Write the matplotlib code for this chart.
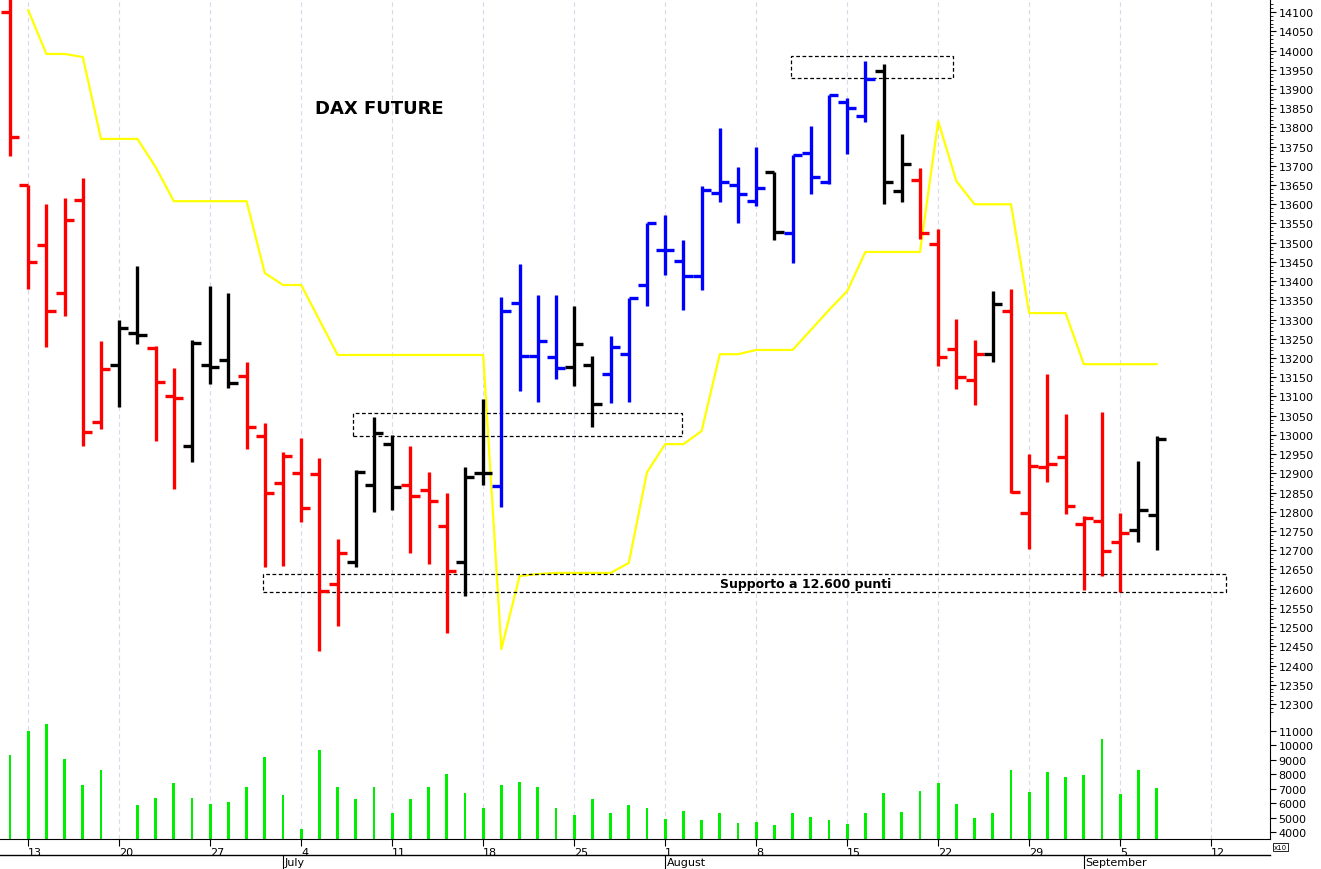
import matplotlib
matplotlib.use("Agg")
import matplotlib.pyplot as plt
from matplotlib.patches import Rectangle
from matplotlib.lines import Line2D
import numpy as np

# trading days Jun 10 .. Sep 7 2022 (index 0..63)
opens = [14100, 13650, 13494, 13369, 13611, 13033, 13182, 13265, 13226, 13101,
         12971, 13182, 13195, 13153, 12997, 12875, 12901, 12898, 12612, 12669,
         12870, 12976, 12870, 12857, 12763, 12669, 12901, 12867, 13343, 13205,
         13203, 13177, 13182, 13158, 13210, 13390, 13481, 13452, 13413, 13629,
         13650, 13608, 13684, 13525, 13733, 13658, 13866, 13829, 13947, 13634,
         13663, 13496, 13223, 13143, 13210, 13322, 12797, 12916, 12942, 12768,
         12776, 12721, 12753, 12791]
highs = [14160, 13650, 13600, 13616, 13668, 13244, 13299, 13439, 13231, 13174,
         13247, 13387, 13369, 13190, 13031, 12955, 12992, 12940, 12730, 12909,
         13047, 13000, 12971, 12903, 12849, 12916, 13093, 13358, 13444, 13364,
         13364, 13335, 13205, 13257, 13356, 13551, 13572, 13507, 13647, 13798,
         13697, 13749, 13684, 13728, 13803, 13884, 13876, 13973, 13965, 13783,
         13694, 13535, 13301, 13247, 13374, 13379, 12950, 13158, 13054, 12789,
         13059, 12797, 12932, 12997]
lows = [13725, 13379, 13229, 13309, 12971, 13015, 13072, 13236, 12984, 12859,
        12929, 13132, 13122, 12963, 12656, 12659, 12773, 12438, 12503, 12656,
        12799, 12804, 12693, 12664, 12485, 12581, 12870, 12812, 13114, 13085,
        13145, 13127, 13020, 13083, 13085, 13335, 13416, 13325, 13377, 13606,
        13551, 13595, 13507, 13447, 13627, 13653, 13731, 13814, 13601, 13606,
        13509, 13179, 13119, 13078, 13190, 12849, 12703, 12877, 12794, 12596,
        12633, 12591, 12721, 12700]
closes = [13775, 13450, 13322, 13559, 13007, 13171, 13278, 13260, 13137, 13095,
          13240, 13177, 13135, 13020, 12849, 12945, 12810, 12594, 12693, 12903,
          13005, 12864, 12841, 12828, 12646, 12890, 12901, 13322, 13205, 13244,
          13174, 13236, 13080, 13229, 13356, 13551, 13481, 13413, 13637, 13658,
          13627, 13642, 13528, 13728, 13671, 13884, 13850, 13926, 13658, 13705,
          13525, 13202, 13150, 13210, 13340, 12851, 12919, 12924, 12815, 12784,
          12698, 12745, 12805, 12989]
bar_colors = (list("RRRRRRKKRRKKKRRRRRRKKKRRRKKB") + list("BBBKK") + list("B" * 9) + ["K"]
              + list("B" * 5) + list("KKR") + list("RRRK") + list("R" * 7) + list("KK"))
volumes = [9313, 11000, 11460, 9080, 7234, 8273, 3540, 5848, 6333, 7373,
           6333, 5917, 6102, 7142, 9198, 6541, 4185, 9660, 7142, 6310,
           7142, 5294, 6310, 7142, 8043, 6726, 5686, 7234, 7488, 7142,
           5686, 5201, 6264, 5340, 5871, 5640, 4878, 5432, 4808, 5340,
           4600, 4716, 4462, 5294, 5016, 4808, 4531, 5340, 6726, 5409,
           6818, 7419, 5963, 4947, 5294, 8273, 6772, 8158, 7811, 7950,
           10422, 6656, 8273, 7026]
yellow_idx = list(range(1, 64))
yellow = [14105, 13991, 13991, 13983, 13770, 13770, 13770, 13697, 13608, 13608,
          13608, 13608, 13608, 13421, 13390, 13390, 13299, 13208, 13208, 13208,
          13208, 13208, 13208, 13208, 13208, 13208, 12443, 12633, 12638, 12641,
          12641, 12641, 12641, 12667, 12903, 12976, 12976, 13010, 13210, 13210,
          13221, 13221, 13221, 13273, 13325, 13374, 13476, 13476, 13476, 13476,
          13816, 13660, 13600, 13600, 13600, 13317, 13317, 13317, 13184, 13184,
          13184, 13184, 13184]
day_ticks = [1, 6, 11, 16, 21, 26, 31, 36, 41, 46, 51, 56, 61, 66]
day_labels = ["13", "20", "27", "4", "11", "18", "25", "1", "8", "15", "22", "29", "5", "12"]
month_ticks = [15, 36, 59]
month_labels = ["July", "August", "September"]

cmap = {"R": "#ff0000", "K": "#000000", "B": "#0000ff"}
fig = plt.figure(figsize=(13.21, 8.70), dpi=100)
W, H = 1321, 870
xlim = (-10 / 18.2, (1270 - 10) / 18.2)

ax = fig.add_axes([0, 1 - 715 / H, 1270 / W, 715 / H])
axv = fig.add_axes([0, 1 - 840 / H, 1270 / W, 125 / H], sharex=ax)

for a in (ax, axv):
    for t in day_ticks:
        a.axvline(t, color="#d8d8ec", lw=0.8, ls=(0, (4, 3)), zorder=0)

n = len(opens)
for i in range(n):
    c = cmap[bar_colors[i]]
    ax.plot([i, i], [lows[i], highs[i]], color=c, lw=2.4, solid_capstyle="butt")
    ax.plot([i - 0.5, i], [opens[i], opens[i]], color=c, lw=2.4, solid_capstyle="butt")
    ax.plot([i, i + 0.5], [closes[i], closes[i]], color=c, lw=2.4, solid_capstyle="butt")
ax.plot(yellow_idx, yellow, color="#ffff00", lw=1.6, zorder=1)

for (x0, x1, y0, y1) in [(18.85, 36.9, 12997, 13057), (42.9, 51.8, 13928, 13986), (13.9, 66.8, 12591, 12638)]:
    ax.add_patch(Rectangle((x0, y0), x1 - x0, y1 - y0, fill=False, ls=(0, (3, 2)), lw=0.9, ec="black"))
ax.text(43.7, 12614, "Supporto a 12.600 punti", ha="center", va="center", fontsize=9, fontweight="bold")
ax.text(20.3, 13850, "DAX FUTURE", ha="center", va="center", fontsize=13, fontweight="bold")

ax.set_xlim(*xlim)
ax.set_ylim(12274, 14134)
ax.yaxis.tick_right()
ax.set_yticks(np.arange(12300, 14101, 50))
ax.set_yticks(np.arange(12280, 14130, 10), minor=True)
ax.tick_params(axis="y", labelsize=8, length=4, pad=2)
ax.tick_params(axis="y", which="minor", length=2)
ax.tick_params(axis="x", bottom=False, labelbottom=False)
for s in ("left", "top", "bottom"):
    ax.spines[s].set_visible(False)

axv.bar(range(n), [v - 3515 for v in volumes], bottom=3515, width=0.15, color="#00ee00")
axv.set_ylim(3515, 12177)
axv.yaxis.tick_right()
axv.set_yticks(np.arange(4000, 11001, 1000))
axv.tick_params(axis="y", labelsize=8, length=4, pad=2)
axv.set_xticks(day_ticks)
axv.set_xticklabels(day_labels)
axv.tick_params(axis="x", labelsize=8, length=5, pad=1)
for lbl in axv.get_xticklabels():
    lbl.set_horizontalalignment("left")
for s in ("left", "top"):
    axv.spines[s].set_visible(False)
axv.text(1.003, -0.04, "x10", transform=axv.transAxes, fontsize=5, va="top", ha="left",
         bbox=dict(boxstyle="square,pad=0.1", fc="white", ec="black", lw=0.6))

# month row
fig.add_artist(Line2D([0, 1270 / W], [1 - 856 / H, 1 - 856 / H], color="black", lw=1))
for t, lab in zip(month_ticks, month_labels):
    xf = (10 + t * 18.2) / W
    fig.add_artist(Line2D([xf, xf], [0, 1 - 856 / H], color="black", lw=0.8))
    fig.text(xf + 0.001, 1 - 863 / H, lab, fontsize=8, va="center", ha="left")

fig.savefig("out.png", dpi=100)
